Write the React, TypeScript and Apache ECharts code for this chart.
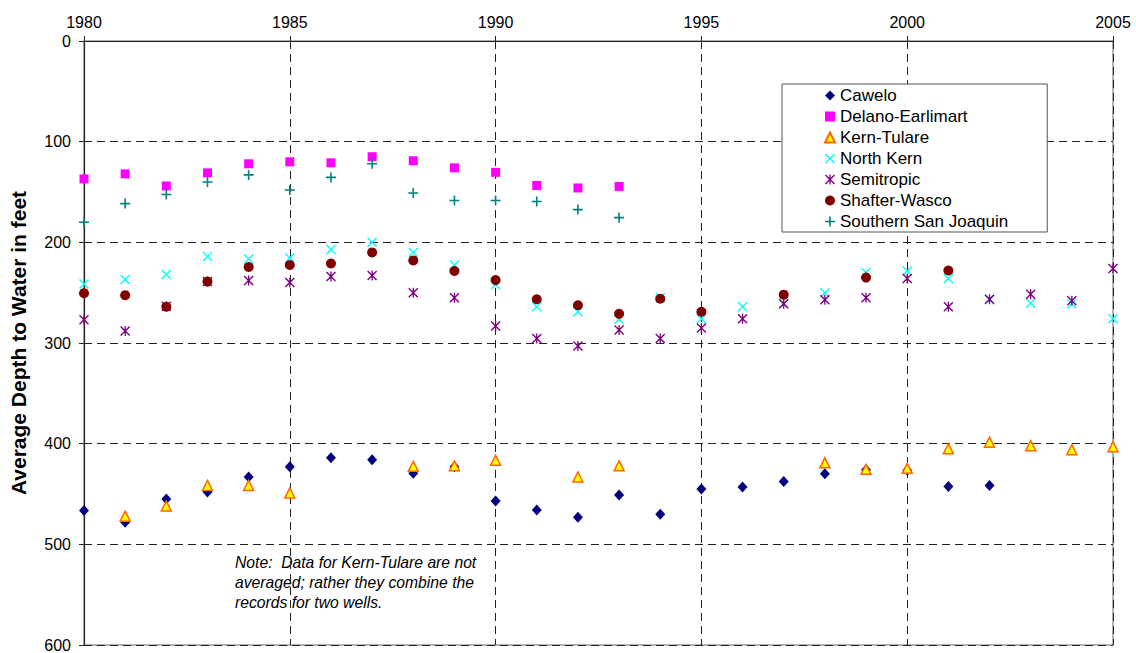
import React, { useEffect, useRef } from "react";
import * as echarts from "echarts";

const years = [1980, 1981, 1982, 1983, 1984, 1985, 1986, 1987, 1988, 1989, 1990, 1991, 1992, 1993, 1994, 1995, 1996, 1997, 1998, 1999, 2000, 2001, 2002, 2003, 2004, 2005];

const cawelo = [466.5, 478, 455, 448, 433, 423, 414, 416, 429.5, 423, 457, 466, 473, 451, 470, 445, 443, 437.5, 430, 426, 426.5, 442.5, 441.5, null, null, null];
const delanoEarlimart = [137, 132, 144, 131, 122, 120, 121, 115, 119, 126, 130.5, 143.5, 146, 144.5, null, null, null, null, null, null, null, null, null, null, null, null];
const kernTulare = [null, 472, 462, 441.5, 441.5, 449, null, null, 422.5, 422, 416.5, null, 433, 422, null, null, null, null, 419, 425.5, 424.5, 405, 398.5, 402, 406, 403];
const northKern = [241.5, 237, 232, 214, 216.5, 215.5, 207, 200, 210, 222.5, 242, 264, 269, 276.5, 255, 276, 264, 261, 250, 230, 228.5, 236, 257, 260.5, 261, 276];
const semitropic = [277, 288, 263.5, 239, 238, 240, 234, 233, 250, 255, 283, 295.5, 303, 287, 295.5, 285, 276, 261, 257, 255, 236, 264, 256.5, 251.5, 258, 226];
const shafterWasco = [250.5, 252.5, 264, 239, 224.5, 222.5, 221, 210, 218, 228.5, 237.5, 256.5, 262.5, 271, 256, 269, null, 252, null, 235, null, 228, null, null, null, null];
const southernSanJoaquin = [180, 161.5, 152.5, 140, 133, 148, 135.5, 122, 151, 158.5, 158.5, 159.5, 167.5, 175.5, null, null, null, null, null, null, null, null, null, null, null, null];

const seriesNames = ["Cawelo", "Delano-Earlimart", "Kern-Tulare", "North Kern", "Semitropic", "Shafter-Wasco", "Southern San Joaquin"];
const xTicks = { min: 1980, max: 2005, interval: 5 };
const yTicks = { min: 0, max: 600, interval: 100 };
const noteLines = ["Note:  Data for Kern-Tulare are not", "averaged; rather they combine the", "records for two wells."];
const yTitle = "Average Depth to Water in feet";

const FONT = "'Liberation Sans', Arial, sans-serif";

const PLUS = "path://M4.2,0H5.8V4.2H10V5.8H5.8V10H4.2V5.8H0V4.2H4.2Z";
const XMARK = "path://M0,1L1,0L5,4L9,0L10,1L6,5L10,9L9,10L5,6L1,10L0,9L4,5Z";
const STAR = "path://M0,1L1,0L5,4L9,0L10,1L6,5L10,9L9,10L5,6L1,10L0,9L4,5Z M4.35,0H5.65V10H4.35Z";

function toPairs(vals: (number | null)[]) {
  const out: [number, number][] = [];
  vals.forEach((v, i) => {
    if (v !== null) out.push([years[i], v]);
  });
  return out;
}

export default function App() {
  const ref = useRef<HTMLDivElement>(null);
  useEffect(() => {
    document.body.style.margin = "0";
    if (!ref.current) return;
    const chart = echarts.init(ref.current, null, { renderer: "svg" });
    const styles = [
      { symbol: "diamond", symbolSize: [10, 11], itemStyle: { color: "#000080", opacity: 1 } },
      { symbol: "rect", symbolSize: 9, itemStyle: { color: "#FF00FF", opacity: 1 } },
      { symbol: "triangle", symbolSize: [10, 10], itemStyle: { color: "#FFFF00", borderColor: "#FF6600", borderWidth: 1.5, opacity: 1 } },
      { symbol: XMARK, symbolSize: 10, itemStyle: { color: "#00FFFF", opacity: 1 } },
      { symbol: STAR, symbolSize: 10, itemStyle: { color: "#800080", opacity: 1 } },
      { symbol: "circle", symbolSize: 10, itemStyle: { color: "#800000", opacity: 1 } },
      { symbol: PLUS, symbolSize: 10, itemStyle: { color: "#008080", opacity: 1 } },
    ];
    const data = [cawelo, delanoEarlimart, kernTulare, northKern, semitropic, shafterWasco, southernSanJoaquin];
    const option: any = {
      animation: false,
      backgroundColor: "#fff",
      textStyle: { fontFamily: FONT },
      grid: {
        left: 82, top: 41, right: 23, bottom: 8,
        show: true, borderColor: "#999", borderWidth: 1.5, backgroundColor: "transparent",
      },
      xAxis: {
        type: "value", position: "top",
        min: xTicks.min, max: xTicks.max, interval: xTicks.interval,
        axisLine: { show: true, onZero: false, lineStyle: { color: "#222", width: 1.2 } },
        axisTick: { show: true, inside: false, length: 5, lineStyle: { color: "#222" } },
        axisLabel: { fontSize: 16, color: "#000", margin: 11, fontFamily: FONT, formatter: (v: number) => String(v) },
        splitLine: { show: true, lineStyle: { color: "#222", type: [8, 5], width: 1 } },
      },
      yAxis: {
        type: "value", inverse: true,
        min: yTicks.min, max: yTicks.max, interval: yTicks.interval,
        name: yTitle, nameLocation: "middle", nameGap: 55,
        nameTextStyle: { fontSize: 21, fontWeight: "bold", color: "#000", fontFamily: FONT },
        axisLine: { show: true, onZero: false, lineStyle: { color: "#222", width: 1.2 } },
        axisTick: { show: true, inside: false, length: 5, lineStyle: { color: "#222" } },
        axisLabel: { fontSize: 16, color: "#000", margin: 13, fontFamily: FONT, formatter: (v: number) => String(v) },
        splitLine: { show: true, lineStyle: { color: "#222", type: [8, 5], width: 1 } },
      },
      legend: {
        orient: "vertical", left: 782, top: 84,
        data: seriesNames,
        backgroundColor: "#fff", borderColor: "#555", borderWidth: 1,
        padding: [3, 39, 2, 42],
        itemWidth: 10, itemHeight: 10, itemGap: 4,
        textStyle: { fontSize: 17, color: "#000", fontFamily: FONT, lineHeight: 17 },
      },
      series: seriesNames.map((name, i) => ({
        name, type: "scatter", data: toPairs(data[i]),
        ...styles[i],
      })),
      graphic: [
        {
          type: "text", left: 235, top: 552,
          style: {
            text: noteLines.join("\n"), fontSize: 15.7, fontStyle: "italic", lineHeight: 20,
            fill: "#000", fontFamily: FONT,
          },
        },
      ],
    };
    chart.setOption(option);
    return () => chart.dispose();
  }, []);
  return <div ref={ref} style={{ position: "absolute", left: 0, top: 0, width: 1136, height: 653 }} />;
}
